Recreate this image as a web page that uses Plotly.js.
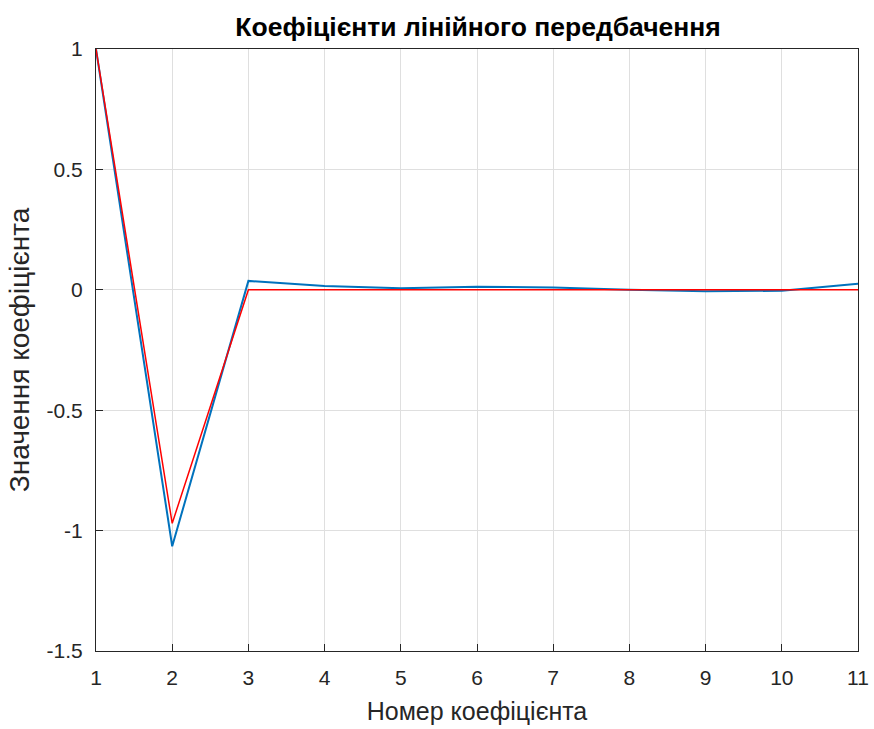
<!DOCTYPE html>
<html><head><meta charset="utf-8">
<script src="https://cdn.plot.ly/plotly-3.0.1.min.js"></script>
<style>body{margin:0;background:#fff}#p{width:874px;height:729px}</style>
</head><body><div id="p"></div>
<script>
const idx = [1,2,3,4,5,6,7,8,9,10,11];
const blueVals = [1, -1.065, 0.037, 0.016, 0.006, 0.013, 0.01, 0.0, -0.006, -0.004, 0.025];
const redVals = [1, -0.97, 0.0, 0.0, 0.0, 0.0, 0.0, 0.0, 0.0, 0.0, 0.0];
const xTicks = [1,2,3,4,5,6,7,8,9,10,11];
const yTicks = [-1.5,-1,-0.5,0,0.5,1];
const yTickText = ['-1.5','-1','-0.5','0','0.5','1'];

const data = [
  {x: idx, y: blueVals, type:'scatter', mode:'lines', line:{color:'#0072BD', width:2}, hoverinfo:'none'},
  {x: idx, y: redVals, type:'scatter', mode:'lines', line:{color:'#FF0000', width:1.5}, hoverinfo:'none'}
];
const fam = 'Liberation Sans, Arial, sans-serif';
const axFont = {family:fam, size:21, color:'#262626'};
const layout = {
  width:874, height:729, showlegend:false,
  paper_bgcolor:'#fff', plot_bgcolor:'#fff',
  margin:{l:96, r:16, t:49, b:78},
  title:{text:'<b>Коефіцієнти лінійного передбачення</b>', x:0.547, xanchor:'center', y:0.963, yanchor:'middle',
    font:{family:fam, size:26.5, color:'#000'}},
  xaxis:{range:[1,11], tickvals:xTicks, ticktext:xTicks.map(String), showgrid:true, gridcolor:'#dfdfdf', gridwidth:1,
    zeroline:false, showline:true, linecolor:'#262626', linewidth:1, mirror:true, ticks:'inside', ticklen:7, tickcolor:'#262626',
    tickfont:axFont, ticklabelstandoff:8,
    title:{text:'Номер коефіцієнта', font:{family:fam, size:25, color:'#262626'}, standoff:14}},
  yaxis:{range:[-1.5,1], tickvals:yTicks, ticktext:yTickText, showgrid:true, gridcolor:'#dfdfdf', gridwidth:1,
    zeroline:false, showline:true, linecolor:'#262626', linewidth:1, mirror:true, ticks:'inside', ticklen:7, tickcolor:'#262626',
    tickfont:axFont, ticklabelstandoff:8,
    title:{text:'Значення коефіцієнта', font:{family:fam, size:28, color:'#262626'}, standoff:8}}
};
Plotly.newPlot('p', data, layout, {staticPlot:true, displayModeBar:false});
</script></body></html>
